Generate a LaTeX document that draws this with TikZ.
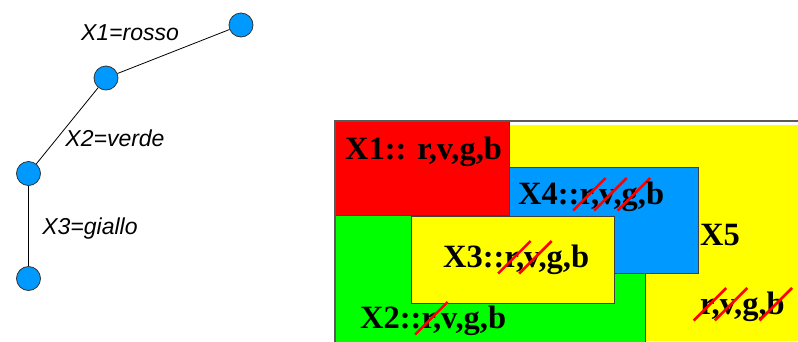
\documentclass[tikz,border=0pt]{standalone}
\usepackage{fontspec}
\setmainfont{Liberation Serif}
\setsansfont{Liberation Sans}
\usetikzlibrary{positioning}
\definecolor{sky}{RGB}{0,153,255}
\definecolor{leaf}{RGB}{0,255,0}
\definecolor{sun}{RGB}{255,255,0}
\definecolor{fire}{RGB}{255,0,0}
\definecolor{frameink}{RGB}{90,90,90}
\tikzset{
  var/.style={circle, draw=black!80, fill=sky, minimum size=24pt, inner sep=0pt, line width=0.8pt},
  edge/.style={draw=black, line width=0.8pt},
  lbl/.style={font=\sffamily\itshape\fontsize{23}{23}\selectfont, inner sep=0pt},
  dom/.style={draw=black!75, fill=#1, line width=0.9pt},
  dom/.default={sun},
  dtxt/.style={font=\bfseries\fontsize{32.5}{32.5}\selectfont, inner sep=0pt, anchor=base west},
  cutline/.style={draw=fire, line width=2.6pt, overlay}
}
\newcommand{\cut}[1]{\tikz[baseline=(l.base)]{\node[inner sep=0pt, outer sep=0pt] (l) {#1};%
  \draw[cutline] ([shift={(-0.5em,-0.2em)}]l.base) -- ([shift={(0.5em,0.8em)}]l.base);}}

\begin{document}
\begin{tikzpicture}[x=1pt, y=-1pt]
  \useasboundingbox (0,0) rectangle (798,341);
  % constraint graph
  \node[var] (v1) at (241,25) {};
  \node[var] (v2) at (106,78) {};
  \node[var] (v3) at (28.5,173.5) {};
  \node[var] (v4) at (28.5,278.5) {};
  \draw[edge] (v1) -- (v2);
  \draw[edge] (v2) -- (v3);
  \draw[edge] (v3) -- (v4);
  \node[lbl] (l1) at (130,33) {X1=rosso};
  \node[lbl] (l2) at (115,138) {X2=verde};
  \node[lbl] (l3) at (90,229) {X3=giallo};
  % domains
  \fill[sun] (509,125) rectangle (798,341);
  \draw[dom=fire] (335,121) rectangle (509,215);
  \draw[dom=leaf] (335,215) rectangle (645,342);
  \draw[dom=sky] (509,167) rectangle (698,273);
  \draw[dom] (411,216) rectangle (614,303);
  \draw[frameink, line width=1.4pt] (335,342) |- (799,121);
  \node[dtxt] (d1) at (345,159) {X1:: r,v,g,b};
  \node[dtxt] (d4) at (518,204) {X4::\cut{r,}\cut{v,}\cut{g,}b};
  \node[dtxt] (d3) at (443,267) {X3::\cut{r,}\cut{v,}g,b};
  \node[dtxt] (d2) at (360,328) {X2::\cut{r,}v,g,b};
  \node[dtxt] (d5) at (700,245) {X5};
  \node[dtxt] (r5) at (700,314) {\cut{r,}\cut{v,}g,\cut{b}};
\end{tikzpicture}
\end{document}
